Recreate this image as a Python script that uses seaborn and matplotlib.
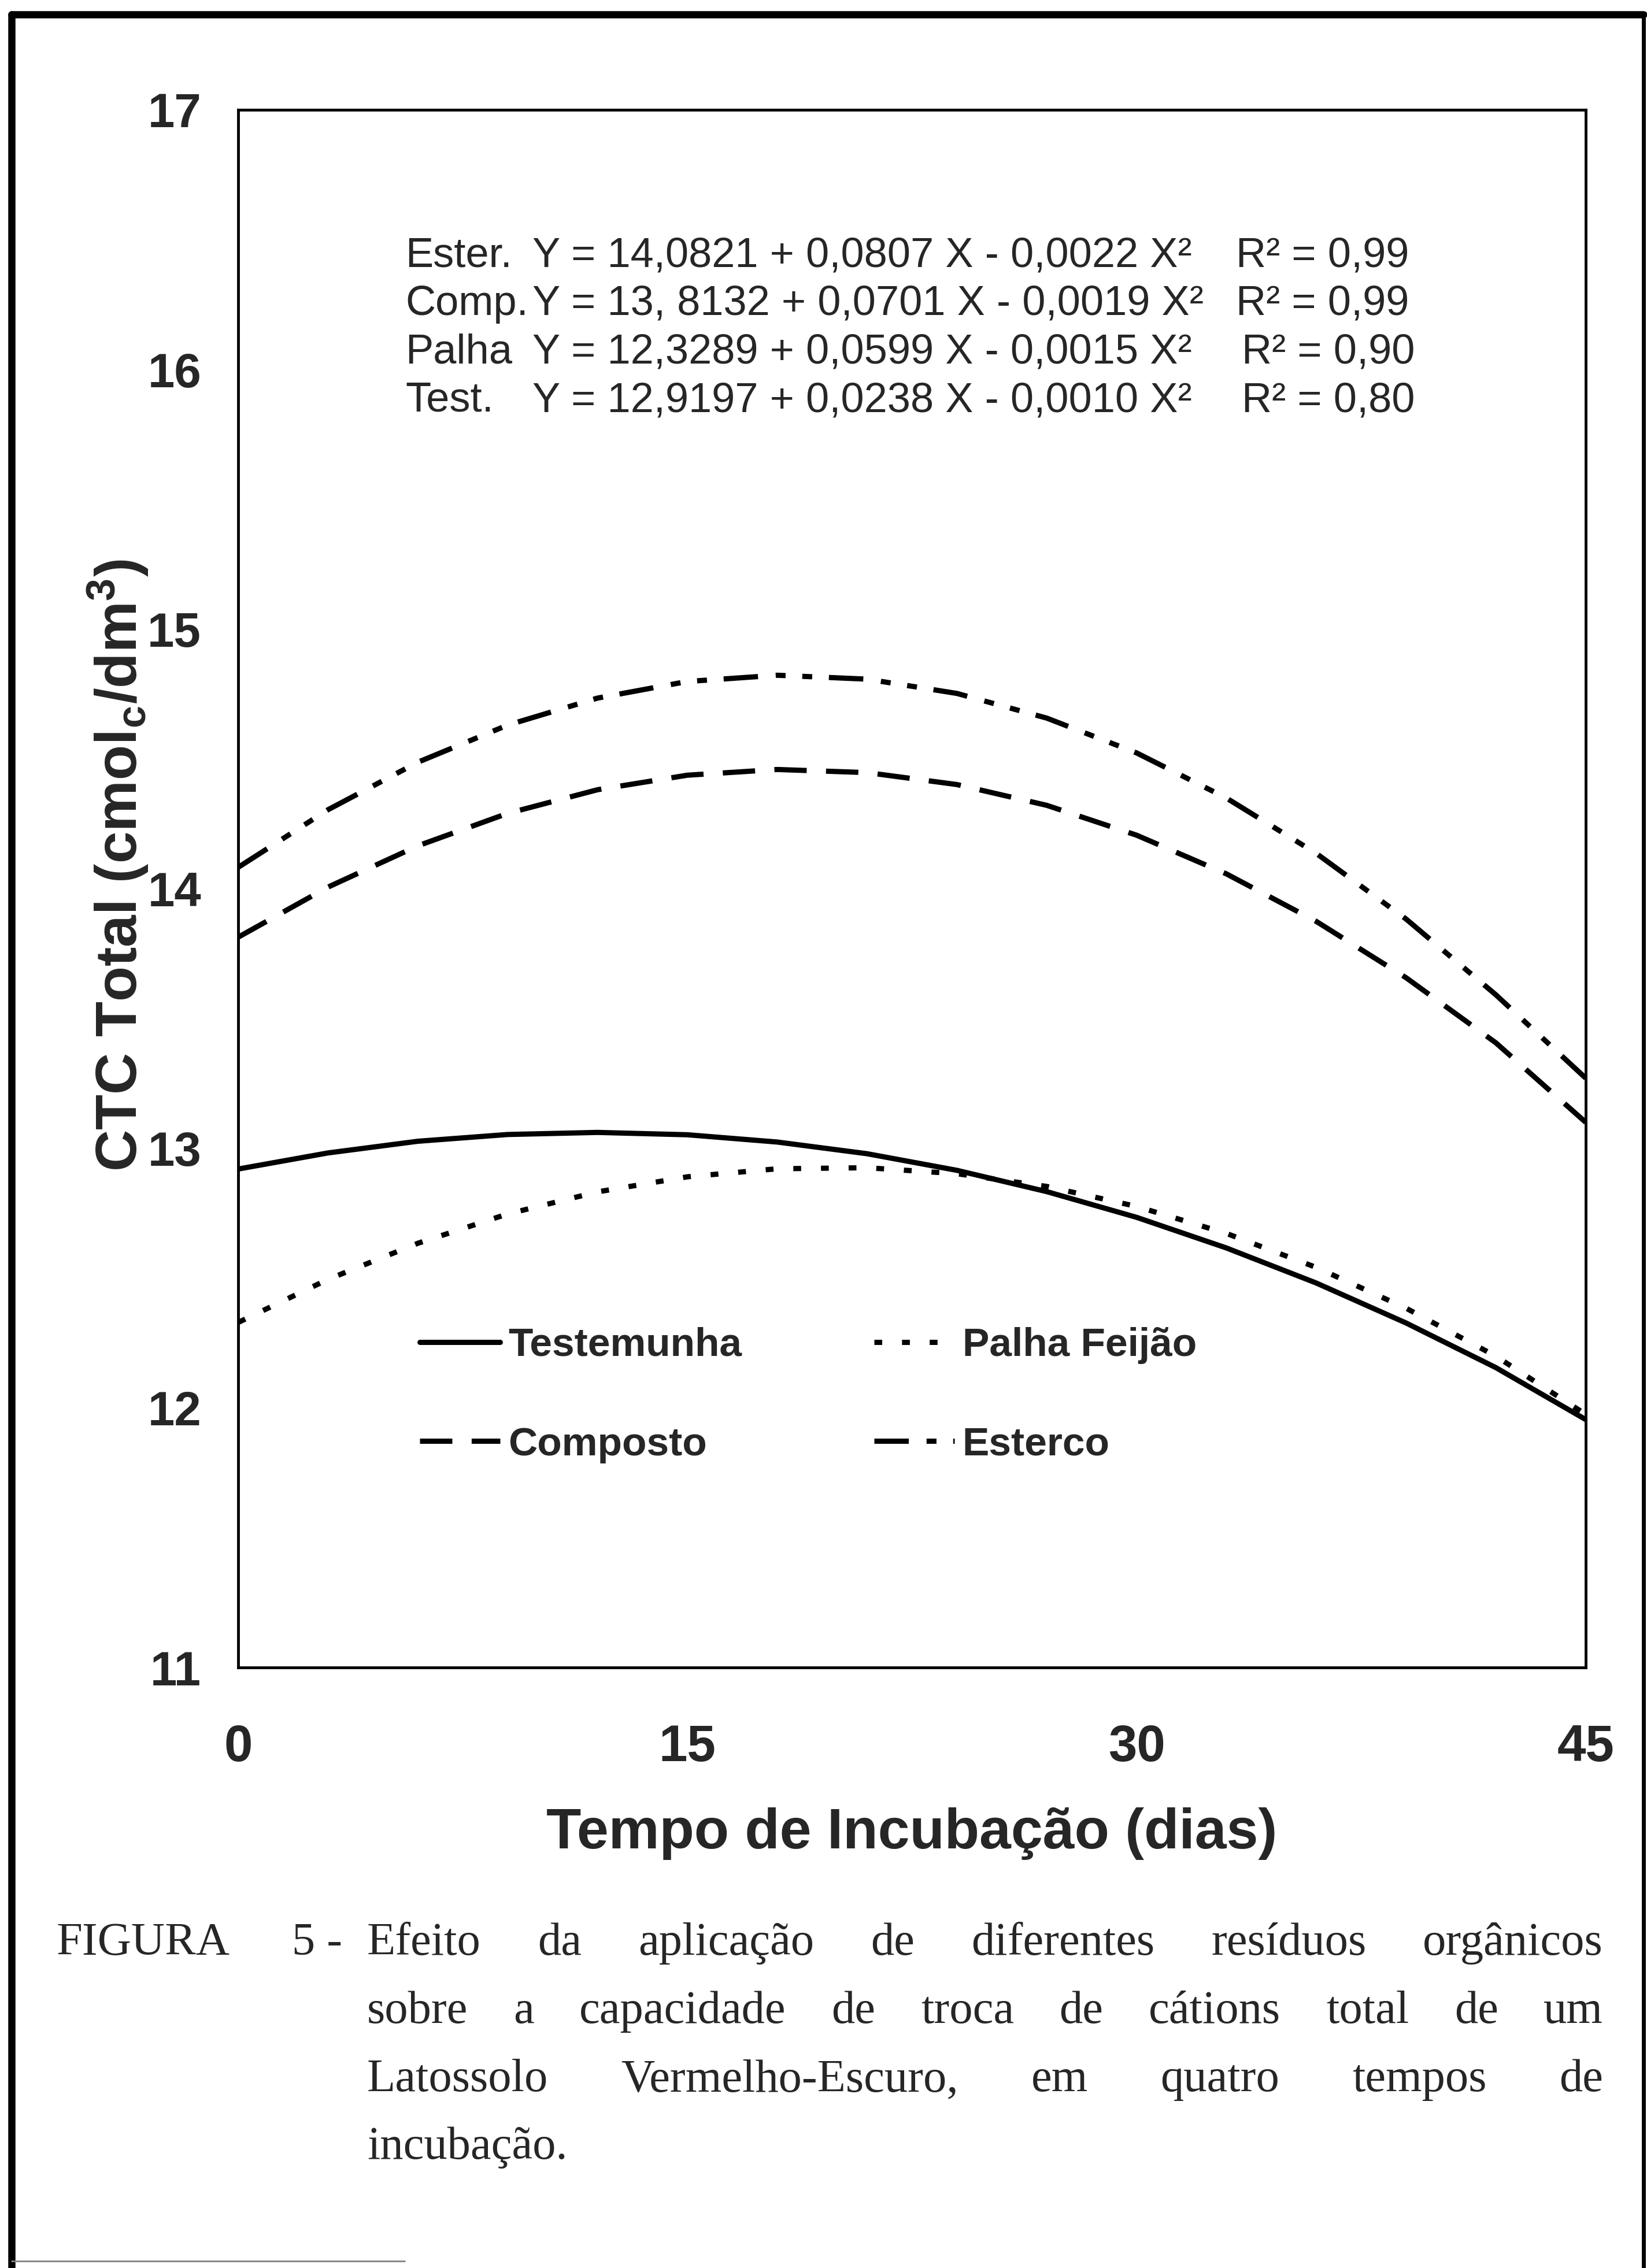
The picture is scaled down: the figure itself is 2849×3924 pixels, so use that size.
import pandas as pd
import seaborn as sns
import matplotlib.pyplot as plt
from matplotlib.lines import Line2D

sns.set_style("white")
plt.rcParams['font.family'] = ['Liberation Sans', 'DejaVu Sans']
plt.rcParams['mathtext.fontset'] = 'custom'
plt.rcParams['mathtext.rm'] = 'Liberation Sans:bold'
plt.rcParams['mathtext.it'] = 'Liberation Sans:bold'
plt.rcParams['mathtext.bf'] = 'Liberation Sans:bold'

# valores (CTC total, cmolc/dm3) a cada 3 dias de incubação
dias = [0, 3, 6, 9, 12, 15, 18, 21, 24, 27, 30, 33, 36, 39, 42, 45]
testemunha = [12.920, 12.982, 13.027, 13.053, 13.061, 13.052, 13.024, 12.979,
              12.915, 12.833, 12.734, 12.616, 12.481, 12.327, 12.155, 11.955]
palha = [12.329, 12.495, 12.634, 12.747, 12.832, 12.890, 12.921, 12.925,
         12.902, 12.853, 12.776, 12.672, 12.541, 12.384, 12.199, 11.975]
composto = [13.813, 14.006, 14.165, 14.290, 14.381, 14.437, 14.459, 14.447,
            14.401, 14.321, 14.206, 14.057, 13.874, 13.657, 13.406, 13.100]
esterco = [14.082, 14.304, 14.487, 14.630, 14.734, 14.798, 14.822, 14.807,
           14.752, 14.657, 14.523, 14.349, 14.136, 13.883, 13.591, 13.270]

tratamentos = ['Testemunha', 'Palha Feijão', 'Composto', 'Esterco']
x_ticks = [0, 15, 30, 45]
y_ticks = [11, 12, 13, 14, 15, 16, 17]

rotulos_eq = ['Ester.', 'Comp.', 'Palha', 'Test.']
equacoes = ['Y = 14,0821 + 0,0807 X - 0,0022 X²',
            'Y = 13, 8132 + 0,0701 X - 0,0019 X²',
            'Y = 12,3289 + 0,0599 X - 0,0015 X²',
            'Y = 12,9197 + 0,0238 X - 0,0010 X²']
r2 = ['R² = 0,99', 'R² = 0,99', 'R² = 0,90', 'R² = 0,80']

legenda_linhas = [
    'sobre a capacidade de troca de cátions total de um',
    'Latossolo Vermelho-Escuro, em quatro tempos de',
]

df = pd.DataFrame({
    'dias': dias * 4,
    'ctc': testemunha + palha + composto + esterco,
    'trat': [t for t in tratamentos for _ in dias],
})

tracos = {
    'Testemunha': '',
    'Palha Feijão': (1.5, 3.8),
    'Composto': (6.2, 3.7),
    'Esterco': (6.6, 3.4, 1.9, 3.2, 1.9, 3.2),
}

W, H = 2849, 3924
fig = plt.figure(figsize=(W / 100, H / 100), dpi=100)
ax = fig.add_axes([412 / W, 1 - 2885 / H, (2743 - 412) / W, (2885 - 190) / H])

sns.lineplot(data=df, x='dias', y='ctc', hue='trat', style='trat',
             palette={t: 'black' for t in tratamentos}, dashes=tracos,
             linewidth=6.5, errorbar=None, legend=False, ax=ax)
for ln in ax.lines:
    ln.set_solid_joinstyle('round')

ax.set_xlim(0, 45)
ax.set_ylim(11, 17)
ax.set_xticks(x_ticks, labels=[str(v) for v in x_ticks], fontweight='bold')
ax.set_yticks(y_ticks, labels=[str(v) for v in y_ticks], fontweight='bold')
ax.tick_params(direction='out', length=22, width=3.5, color='black')
ax.tick_params(axis='x', pad=48, labelsize=64)
ax.tick_params(axis='y', pad=24, labelsize=60)
for s in ax.spines.values():
    s.set_linewidth(3.5)
    s.set_color('black')

ax.set_xlabel('Tempo de Incubação (dias)', fontsize=71, fontweight='bold', va='center')
ax.xaxis.set_label_coords(0.5, (2885 - 3172) / 2695)
ax.set_ylabel('CTC Total (cmol$_{c}$/dm$^{3}$)', fontsize=72, fontweight='bold', va='center')
ax.yaxis.set_label_coords((205 - 412) / 2331, (2885 - 1497) / 2695)

# equações de regressão
for i in range(4):
    y = 1 - (443 + 83.5 * i) / H
    fig.text(701 / W, y, rotulos_eq[i], fontsize=52, va='center')
    fig.text(921 / W, y, equacoes[i], fontsize=52, va='center')
    fig.text((2138 + 10 * (i // 2)) / W, y, r2[i], fontsize=52, va='center')

# legenda
handles = [Line2D([], [], color='black', lw=6.5,
                  linestyle='-' if tracos[t] == '' else (0, tracos[t]))
           for t in ['Testemunha', 'Composto', 'Palha Feijão', 'Esterco']]
ax.legend(handles, ['Testemunha', 'Composto', 'Palha Feijão', 'Esterco'],
          ncol=2, frameon=False, prop={'size': 50, 'weight': 'bold'},
          handlelength=2.0, handletextpad=0.2, columnspacing=3.3,
          labelspacing=1.55, borderpad=0, borderaxespad=0,
          loc='upper left', bbox_to_anchor=(726 / W, 1 - 2296 / H),
          bbox_transform=fig.transFigure)

# legenda da figura, justificada
serif = dict(family=['Liberation Serif', 'DejaVu Serif'], fontsize=58, va='baseline')
r = fig.canvas.get_renderer()


def linha_justificada(texto, x0, x1, yb):
    txts = [fig.text(0, 1 - yb / H, p, **serif) for p in texto.split()]
    larg = [t.get_window_extent(r).width for t in txts]
    folga = ((x1 - x0) - sum(larg)) / (len(txts) - 1)
    x = x0
    for t, w in zip(txts, larg):
        t.set_x(x / W)
        x += w + folga


fig.text(98 / W, 1 - 3382 / H, 'FIGURA', **serif)
fig.text(505 / W, 1 - 3382 / H, '5 -', **serif)
linha_justificada('Efeito da aplicação de diferentes resíduos orgânicos', 635, 2773, 3382)
linha_justificada(legenda_linhas[0], 635, 2773, 3500)
linha_justificada(legenda_linhas[1], 635, 2773, 3618)
fig.text(635 / W, 1 - 3735 / H, 'incubação.', **serif)

# moldura
fig.add_artist(Line2D([20 / W, 20 / W], [0, 1 - 25 / H], color='black', lw=9))
fig.add_artist(Line2D([20 / W, 2843 / W], [1 - 25 / H, 1 - 25 / H], color='black', lw=9))
fig.add_artist(Line2D([2843 / W, 2843 / W], [0, 1 - 25 / H], color='black', lw=5))
fig.add_artist(Line2D([20 / W, 700 / W], [1 - 3912 / H, 1 - 3912 / H], color='0.5', lw=2))

fig.savefig('out.png', dpi=100)
